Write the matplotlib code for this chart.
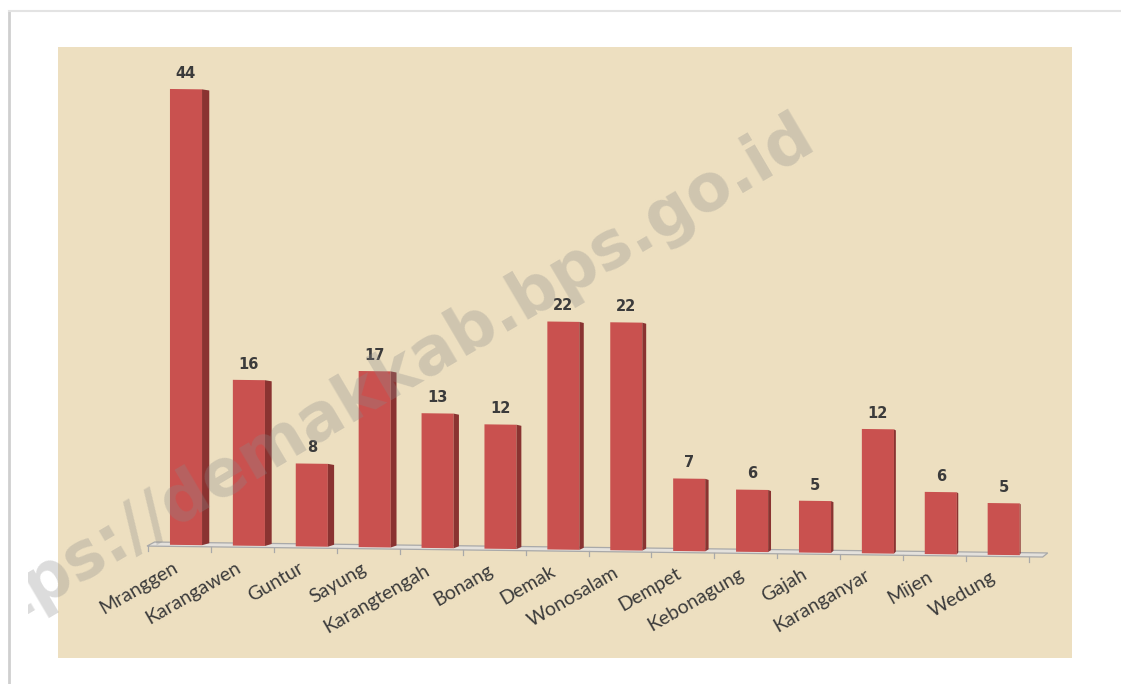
import matplotlib.pyplot as plt
from matplotlib.transforms import Affine2D
from matplotlib.lines import Line2D
from matplotlib.patches import Polygon, Rectangle

# jumlah per kecamatan
kecamatan = ['Mranggen', 'Karangawen', 'Guntur', 'Sayung', 'Karangtengah', 'Bonang',
             'Demak', 'Wonosalam', 'Dempet', 'Kebonagung', 'Gajah', 'Karanganyar',
             'Mijen', 'Wedung']
jumlah = [44, 16, 8, 17, 13, 12, 22, 22, 7, 6, 5, 12, 6, 5]

bar_color = '#C9514F'
side_color = '#8A3331'
panel_color = '#EDDFC0'
text_color = '#3b3b3b'

fig = plt.figure(figsize=(11.21, 6.84), dpi=100)
fig.patch.set_facecolor('white')

# panel in pixel coords -> fig fraction
W, H = 1121, 684
px0, px1, py0, py1 = 58, 1072, 47, 658
ax = fig.add_axes([px0 / W, 1 - py1 / H, (px1 - px0) / W, (py1 - py0) / H])
ax.set_facecolor(panel_color)
for s in ax.spines.values():
    s.set_visible(False)
ax.set_xticks([])
ax.set_yticks([])

# scale: 62.9 px per category, 10.36 px per unit, baseline of first bar at y=545
xs = 62.9
ys = 10.36
ax.set_xlim((px0 - 186) / xs, (px1 - 186) / xs)
ax.set_ylim(-(py1 - 545) / ys, (545 - py0) / ys)

# slight perspective: floor drops to the right
k = -10 / ys / 13
shear = Affine2D([[1, 0, 0], [k, 1, 0], [0, 0, 1]])
tr = shear + ax.transData

n = len(jumlah)
xpos = list(range(n))
w = 0.51

# floor
floor = Polygon([(-0.62, -0.15), (n - 0.38, -0.15), (n - 0.3, 0.25), (-0.5, 0.25)],
                closed=True, facecolor='#e4e1dc', edgecolor='#a9a9a9', lw=0.9,
                transform=tr, zorder=2)
ax.add_patch(floor)
for i in range(n + 1):
    ax.plot([i - 0.5 - 0.1, i - 0.5 - 0.1], [-0.15, -0.6], color='#a9a9a9', lw=0.9,
            transform=tr, zorder=2)

bars = ax.bar(xpos, jumlah, width=w, color=bar_color, zorder=3)
for b in bars:
    b.set_transform(tr)

for x, v in zip(xpos, jumlah):
    # side face gets thinner towards the right (perspective)
    d = 0.1 * (n - 1 - x) / (n - 1) + 0.015
    side = Polygon([(x + w / 2, 0), (x + w / 2 + d, 0.2), (x + w / 2 + d, v - 0.1), (x + w / 2, v)],
                   closed=True, facecolor=side_color, edgecolor='none', transform=tr, zorder=3)
    ax.add_patch(side)
    ax.text(x, v + 0.8, str(v), ha='center', va='bottom', fontsize=10.5,
            fontweight='bold', color=text_color, transform=tr, zorder=4,
            family='DejaVu Sans')

for x, name in zip(xpos, kecamatan):
    ax.text(x - 0.15, -2.0, name, ha='right', va='center', rotation=30,
            rotation_mode='anchor', fontsize=14, color=text_color, family='Lato',
            transform=tr, zorder=4)

# watermark, clipped at the left like the screenshot
wm = fig.text(818 / W, 1 - 145 / H, 'https://demakkab.bps.go.id', ha='right', va='baseline',
              rotation=30.5, rotation_mode='anchor', fontsize=47, fontweight='bold',
              color='#8a8a8a', alpha=0.3, family='DejaVu Sans', zorder=10)
clip = Rectangle((28 / W, 0), 1, 1, transform=fig.transFigure, visible=False)
fig.add_artist(clip)
wm.set_clip_path(clip)

# frame lines
fig.add_artist(Line2D([9 / W, 9 / W], [0, 1 - 11 / H], transform=fig.transFigure,
                      color='#cfcfcf', lw=2))
fig.add_artist(Line2D([9 / W, 1], [1 - 11 / H, 1 - 11 / H], transform=fig.transFigure,
                      color='#e3e3e3', lw=1.5))

plt.savefig('out.png', dpi=100, facecolor='white')
